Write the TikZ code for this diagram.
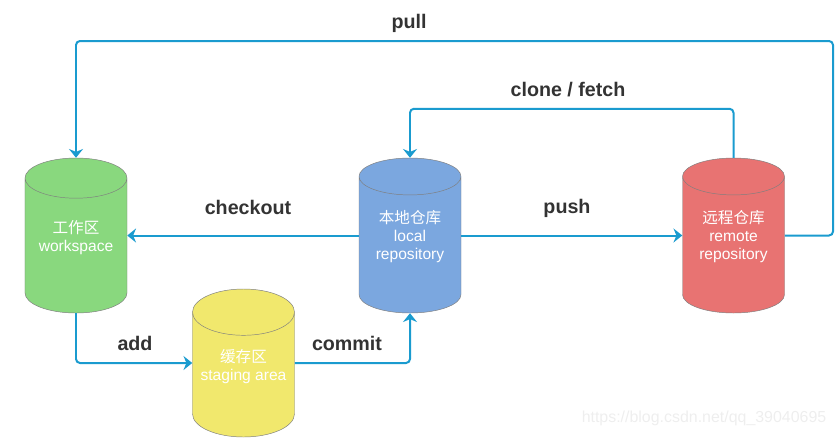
\documentclass[tikz,border=0pt]{standalone}
\usepackage{fontspec}
\setmainfont{Liberation Sans}
\newfontfamily\cjk{Noto Sans CJK SC}
\usetikzlibrary{shapes.geometric,arrows.meta}
\definecolor{gitLinie}{HTML}{1A9BCF}
\definecolor{gitRand}{HTML}{7F7F7F}
\definecolor{gitText}{HTML}{333333}
\definecolor{gitGruen}{HTML}{89D87E}
\definecolor{gitBlau}{HTML}{7BA7DF}
\definecolor{gitRot}{HTML}{E87372}
\definecolor{gitGelb}{HTML}{F1E86D}
% Text im Zylinder etwas anheben
\newcommand{\cyltxt}[1]{\raisebox{2.5pt}[0pt][0pt]{\begin{tabular}{@{}c@{}}#1\end{tabular}}}

\begin{document}
\begin{tikzpicture}[x=0.03cm, y=-0.03cm,
      repo/.style={cylinder, shape border rotate=90, aspect=0.54, draw=gitRand,
                   fill=#1, minimum width=3.06cm, minimum height=4.65cm,
                   inner sep=0pt, anchor=shape center, text=white,
                   font=\fontsize{13.3}{15.3}\selectfont},
      lbl/.style={font=\fontsize{16.8}{20}\selectfont\bfseries, text=gitText},
      flow/.style={draw=gitLinie, line width=1.7pt, rounded corners=3.4pt,
                   -{Stealth[length=7.5pt, width=12pt, inset=2.5pt]}}]
    \useasboundingbox (0,0) rectangle (835,438);
    % Speicherorte
    \node[repo=gitGruen] (ws) at (76,235.5) {\cyltxt{{\cjk 工作区}\\workspace}};
    \node[repo=gitGelb, minimum height=4.44cm] (sa) at (243.5,363) {\cyltxt{{\cjk 缓存区}\\staging area}};
    \node[repo=gitBlau] (lr) at (410,235.5) {\cyltxt{{\cjk 本地仓库}\\local\\repository}};
    \node[repo=gitRot] (rr) at (733.5,235.5) {\cyltxt{{\cjk 远程仓库}\\remote\\repository}};
    % Befehle
    \node[lbl] (lPull)   at (409,23)  {pull};
    \node[lbl] (lClone)  at (568,90)  {clone / fetch};
    \node[lbl] (lCheck)  at (248,207) {checkout};
    \node[lbl] (lPush)   at (567,208) {push};
    \node[lbl] (lAdd)    at (135,343) {add};
    \node[lbl] (lCommit) at (347,343) {commit};
    \coordinate (pullTop) at (833,41);
    \draw[flow] (rr.shape center -| rr.east) -| (pullTop) -| (ws.north);
    \draw[flow] (rr.north) -- ++(0,-49) -| (lr.north);
    \draw[flow] (lr.shape center -| lr.west) -- (ws.shape center -| ws.east);
    \draw[flow] (lr.shape center -| lr.east) -- (rr.shape center -| rr.west);
    \draw[flow] (ws.south) |- (sa.shape center -| sa.west);
    \draw[flow] (sa.shape center -| sa.east) -| (lr.south);
    % Wasserzeichen
    \node[text=gray!13, font=\fontsize{13.6}{16}\selectfont] (wmark) at (704,418)
      {https://blog.csdn.net/qq\_39040695};
  \end{tikzpicture}
\end{document}
